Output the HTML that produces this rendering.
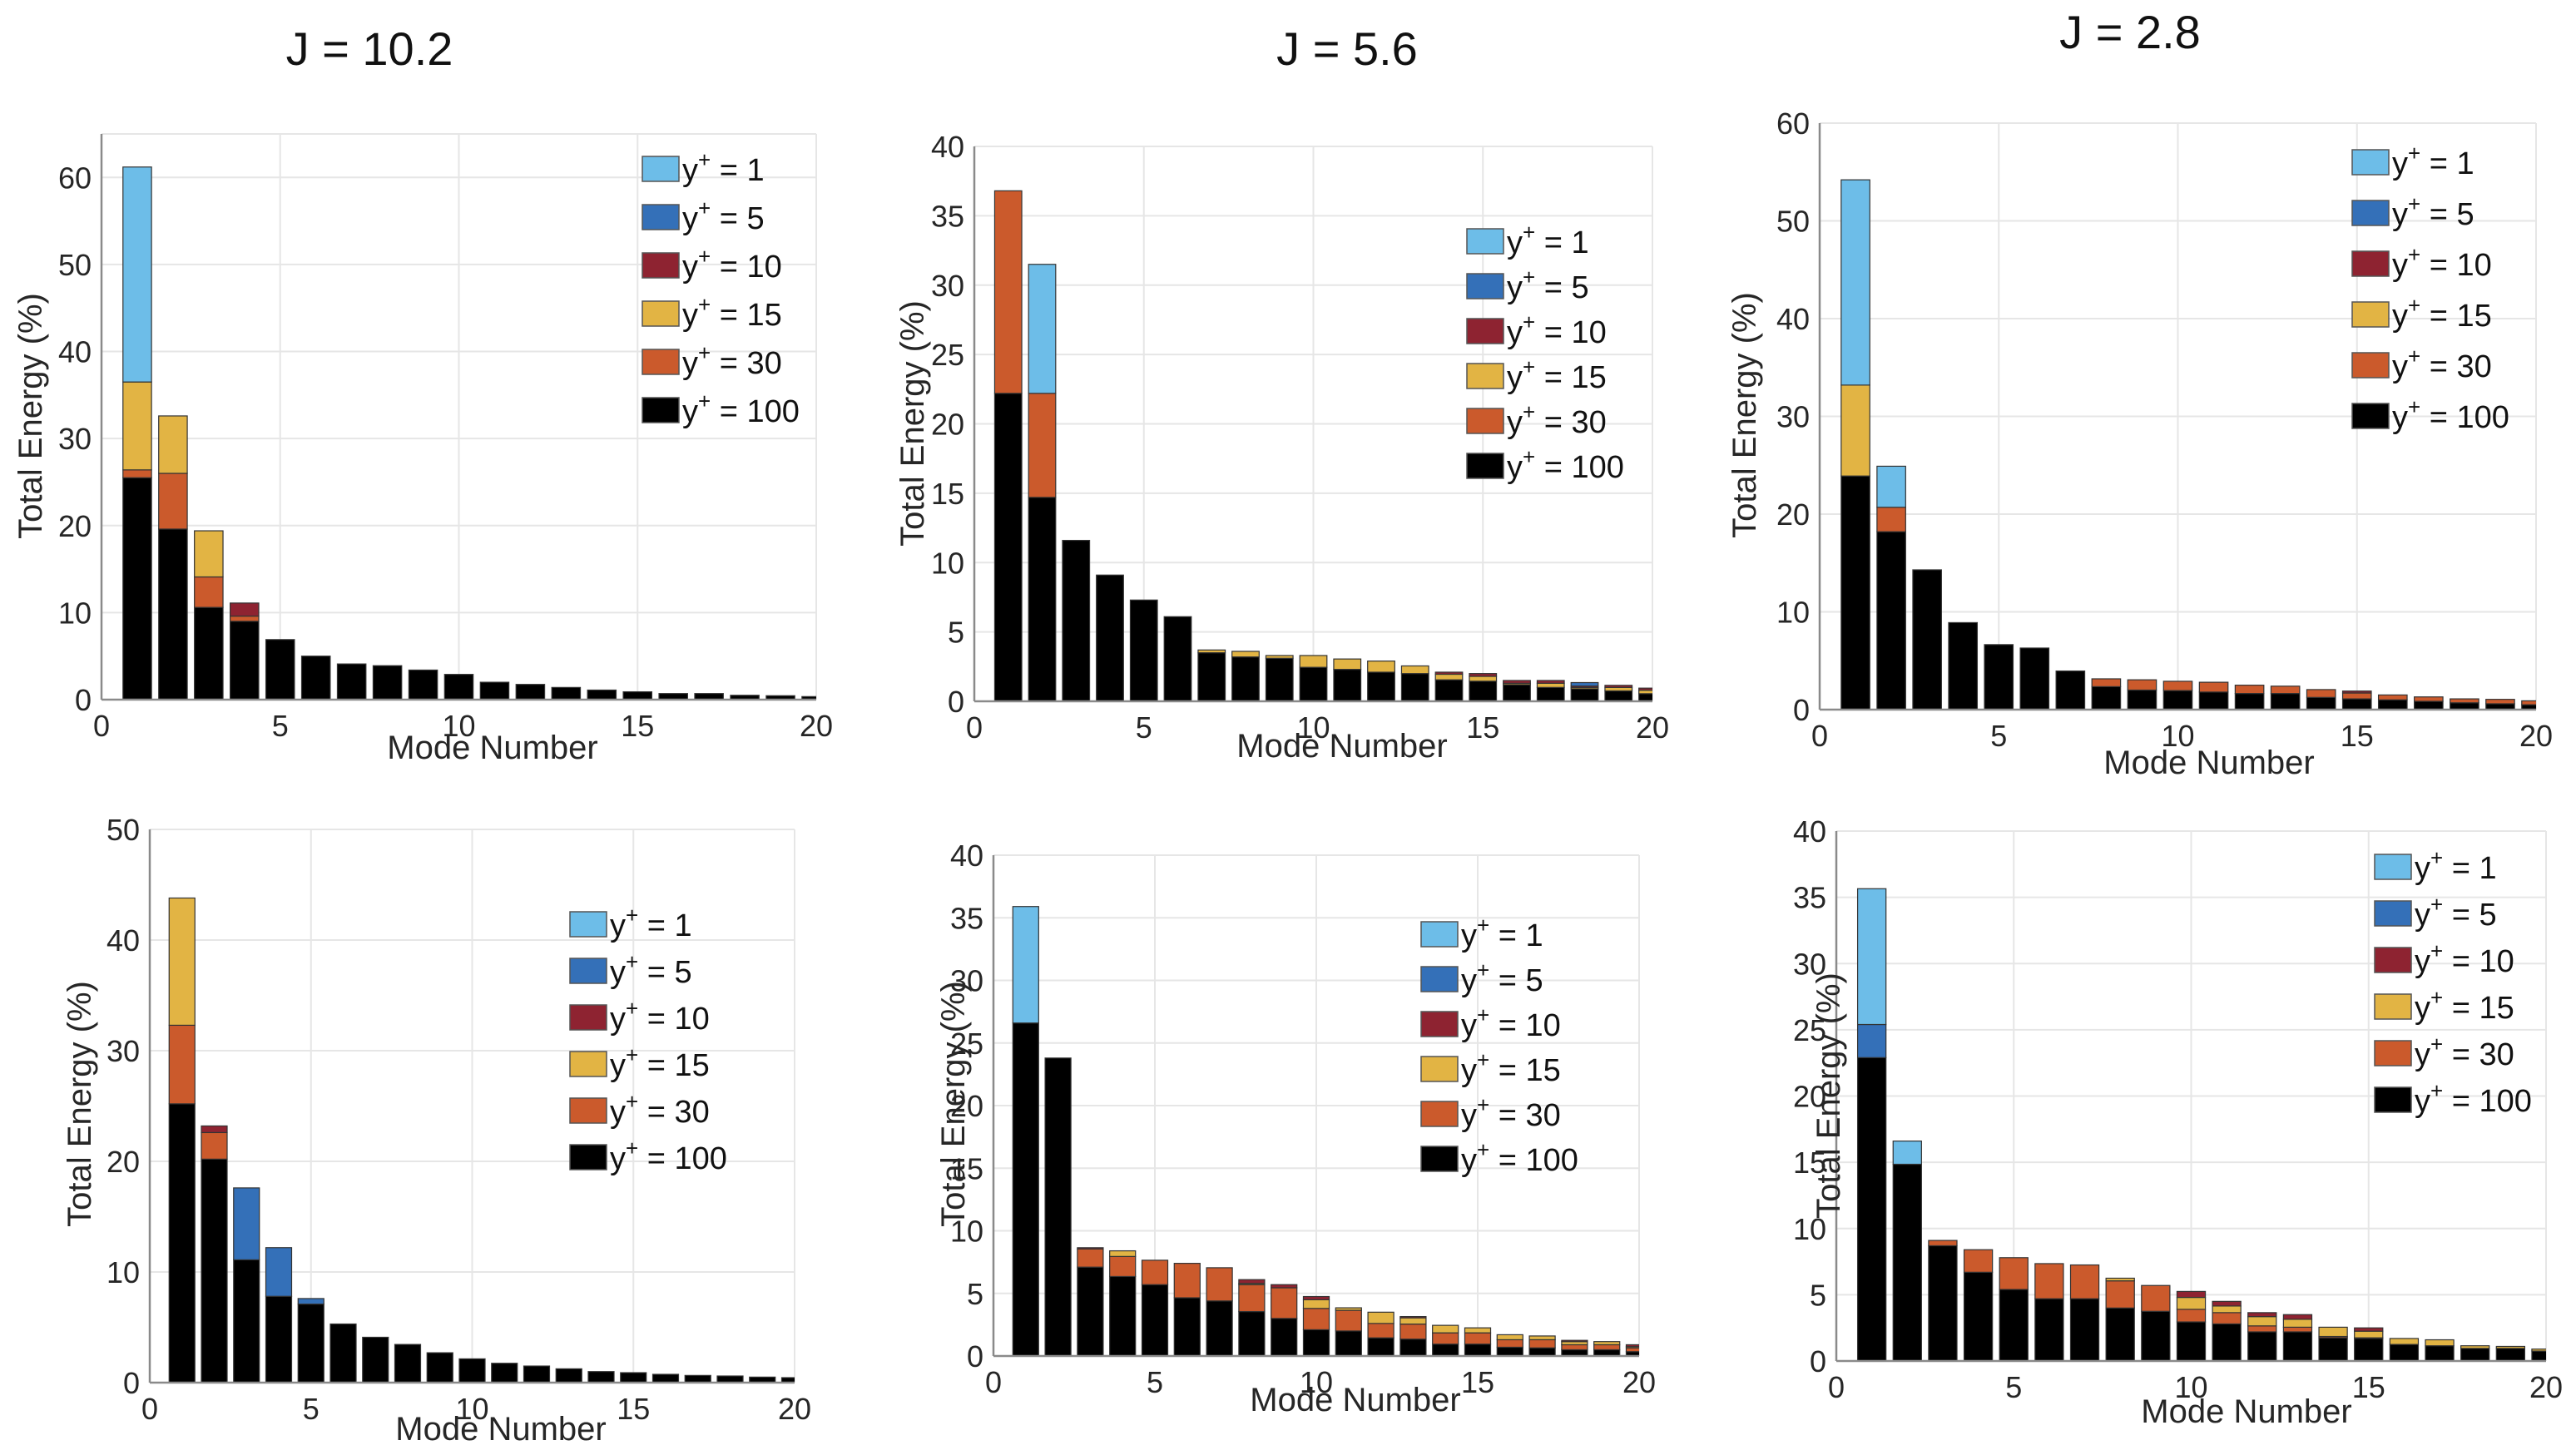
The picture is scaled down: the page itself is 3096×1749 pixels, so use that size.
<!DOCTYPE html>
<html><head><meta charset="utf-8"><style>
html,body{margin:0;padding:0;background:#fff;}
svg{display:block;font-family:"Liberation Sans",Arial,sans-serif;}
</style></head><body>
<svg id="fig" width="3096" height="1749" viewBox="0 0 3096 1749" xmlns="http://www.w3.org/2000/svg">
<rect x="0" y="0" width="3096" height="1749" fill="#fff"/>
<text x="444" y="78" font-size="56" text-anchor="middle" fill="#111">J = 10.2</text>
<text x="1619" y="78" font-size="56" text-anchor="middle" fill="#111">J = 5.6</text>
<text x="2560" y="58" font-size="56" text-anchor="middle" fill="#111">J = 2.8</text>
</svg>
<script>
const seriesLabels = ["100","30","15","10","5","1"];
const seriesColors = ["#000000","#CB5A2C","#E2B444","#8E2331","#3470B8","#6DBDE8"];
const modes = [1,2,3,4,5,6,7,8,9,10,11,12,13,14,15,16,17,18,19,20];
const xTicks = [0,5,10,15,20];

const p1_y100 = [25.5,19.6,10.6,9.0,6.9,5.0,4.1,3.9,3.4,2.9,2.0,1.75,1.4,1.1,0.9,0.7,0.7,0.5,0.45,0.35];
const p1_y30  = [0.9,6.4,3.5,0.6,0,0,0,0,0,0,0,0,0,0,0,0,0,0,0,0];
const p1_y15  = [10.1,6.6,5.3,0,0,0,0,0,0,0,0,0,0,0,0,0,0,0,0,0];
const p1_y10  = [0,0,0,1.5,0,0,0,0,0,0,0,0,0,0,0,0,0,0,0,0];
const p1_y5   = [0,0,0,0,0,0,0,0,0,0,0,0,0,0,0,0,0,0,0,0];
const p1_y1   = [24.7,0,0,0,0,0,0,0,0,0,0,0,0,0,0,0,0,0,0,0];
const p1_yTicks = [0,10,20,30,40,50,60];

const p2_y100 = [22.2,14.7,11.6,9.1,7.3,6.1,3.5,3.2,3.1,2.45,2.3,2.1,2.0,1.55,1.45,1.2,1.0,0.9,0.75,0.55];
const p2_y30  = [14.6,7.5,0,0,0,0,0,0,0,0,0,0,0,0,0,0,0,0,0,0];
const p2_y15  = [0,0,0,0,0,0,0.2,0.4,0.2,0.85,0.75,0.8,0.55,0.4,0.35,0.1,0.3,0.1,0.25,0.25];
const p2_y10  = [0,0,0,0,0,0,0,0,0,0,0,0,0,0.15,0.2,0.2,0.2,0.1,0.15,0.15];
const p2_y5   = [0,0,0,0,0,0,0,0,0,0,0,0,0,0,0,0,0,0.25,0,0];
const p2_y1   = [0,9.3,0,0,0,0,0,0,0,0,0,0,0,0,0,0,0,0,0,0];
const p2_yTicks = [0,5,10,15,20,25,30,35,40];

const p3_y100 = [23.9,18.2,14.3,8.9,6.65,6.3,3.95,2.35,2.0,1.95,1.8,1.65,1.65,1.25,1.1,1.0,0.85,0.7,0.6,0.5];
const p3_y30  = [0,2.5,0,0,0,0,0,0.8,1.05,0.95,1.0,0.85,0.75,0.8,0.6,0.5,0.45,0.4,0.45,0.4];
const p3_y15  = [9.3,0,0,0,0,0,0,0,0,0,0,0,0,0,0,0,0,0,0,0];
const p3_y10  = [0,0,0,0,0,0,0,0,0,0,0,0,0,0,0.2,0,0,0,0,0];
const p3_y5   = [0,0,0,0,0,0,0,0,0,0,0,0,0,0,0,0,0,0,0,0];
const p3_y1   = [21.0,4.2,0,0,0,0,0,0,0,0,0,0,0,0,0,0,0,0,0,0];
const p3_yTicks = [0,10,20,30,40,50,60];

const p4_y100 = [25.2,20.2,11.1,7.8,7.1,5.3,4.1,3.45,2.7,2.15,1.75,1.5,1.25,1.0,0.9,0.75,0.65,0.6,0.5,0.45];
const p4_y30  = [7.1,2.4,0,0,0,0,0,0,0,0,0,0,0,0,0,0,0,0,0,0];
const p4_y15  = [11.5,0,0,0,0,0,0,0,0,0,0,0,0,0,0,0,0,0,0,0];
const p4_y10  = [0,0.6,0,0,0,0,0,0,0,0,0,0,0,0,0,0,0,0,0,0];
const p4_y5   = [0,0,6.5,4.4,0.5,0,0,0,0,0,0,0,0,0,0,0,0,0,0,0];
const p4_y1   = [0,0,0,0,0,0,0,0,0,0,0,0,0,0,0,0,0,0,0,0];
const p4_yTicks = [0,10,20,30,40,50];

const p5_y100 = [26.6,23.8,7.1,6.35,5.7,4.65,4.4,3.55,3.0,2.1,2.0,1.45,1.35,0.95,0.95,0.7,0.65,0.5,0.5,0.35];
const p5_y30  = [0,0,1.45,1.6,1.95,2.75,2.65,2.15,2.45,1.7,1.65,1.15,1.2,0.9,0.9,0.6,0.65,0.4,0.4,0.3];
const p5_y15  = [0,0,0,0.45,0,0,0,0.1,0,0.7,0.2,0.9,0.5,0.6,0.4,0.4,0.3,0.25,0.25,0.1];
const p5_y10  = [0,0,0.1,0,0,0,0,0.3,0.25,0.25,0,0,0.1,0,0,0,0,0.1,0,0.15];
const p5_y5   = [0,0,0,0,0,0,0,0,0,0,0,0,0,0,0,0,0,0,0,0];
const p5_y1   = [9.3,0,0,0,0,0,0,0,0,0,0,0,0,0,0,0,0,0,0,0];
const p5_yTicks = [0,5,10,15,20,25,30,35,40];

const p6_y100 = [22.9,14.85,8.7,6.7,5.4,4.7,4.7,4.0,3.75,2.95,2.8,2.2,2.2,1.75,1.7,1.25,1.15,0.95,0.95,0.75];
const p6_y30  = [0,0,0.4,1.7,2.4,2.65,2.55,2.05,1.95,0.95,0.85,0.45,0.35,0.1,0.05,0,0,0,0,0];
const p6_y15  = [0,0,0,0,0,0,0,0.2,0,0.9,0.5,0.7,0.6,0.7,0.5,0.45,0.45,0.2,0.15,0.15];
const p6_y10  = [0,0,0,0,0,0,0,0,0,0.45,0.35,0.3,0.35,0,0.25,0,0,0,0,0];
const p6_y5   = [2.5,0,0,0,0,0,0,0,0,0,0,0,0,0,0,0,0,0,0,0];
const p6_y1   = [10.25,1.75,0,0,0,0,0,0,0,0,0,0,0,0,0,0,0,0,0,0];
const p6_yTicks = [0,5,10,15,20,25,30,35,40];

const NS = "http://www.w3.org/2000/svg";
const fig = document.getElementById('fig');
function mk(tag, attrs, parent){
  const e = document.createElementNS(NS, tag);
  for (const k in attrs) e.setAttribute(k, attrs[k]);
  (parent || fig).appendChild(e);
  return e;
}

const panels = [
  {id:"p1", L:122, R:981, T:161, B:841, ymax:65, yTicks:p1_yTicks, series:[p1_y100,p1_y30,p1_y15,p1_y10,p1_y5,p1_y1], legX:772, legY:203, legDy:58, ylx:36, yly:500, xlx:592, xly:912},
  {id:"p2", L:1171, R:1986, T:176, B:843, ymax:40, yTicks:p2_yTicks, series:[p2_y100,p2_y30,p2_y15,p2_y10,p2_y5,p2_y1], legX:1763, legY:290, legDy:54, ylx:1096, yly:509, xlx:1613, xly:910},
  {id:"p3", L:2187, R:3048, T:148, B:853, ymax:60, yTicks:p3_yTicks, series:[p3_y100,p3_y30,p3_y15,p3_y10,p3_y5,p3_y1], legX:2827, legY:195, legDy:61, ylx:2096, yly:499, xlx:2655, xly:930},
  {id:"p4", L:180, R:955, T:997, B:1662, ymax:50, yTicks:p4_yTicks, series:[p4_y100,p4_y30,p4_y15,p4_y10,p4_y5,p4_y1], legX:685, legY:1111, legDy:56, ylx:95, yly:1327, xlx:602, xly:1731},
  {id:"p5", L:1194, R:1970, T:1028, B:1630, ymax:40, yTicks:p5_yTicks, series:[p5_y100,p5_y30,p5_y15,p5_y10,p5_y5,p5_y1], legX:1708, legY:1123, legDy:54, ylx:1145, yly:1327, xlx:1629, xly:1696},
  {id:"p6", L:2207, R:3060, T:999, B:1636, ymax:40, yTicks:p6_yTicks, series:[p6_y100,p6_y30,p6_y15,p6_y10,p6_y5,p6_y1], legX:2854, legY:1042, legDy:56, ylx:2197, yly:1317, xlx:2700, xly:1710}
];

panels.forEach(p => {
  const g = mk('g', {});
  
  
  const xs = v => p.L + (v / 20) * (p.R - p.L);
  const ys = v => p.B - (v / p.ymax) * (p.B - p.T);
  const defs = mk('defs', {}, g);
  const cp = mk('clipPath', {id: p.id + 'clip'}, defs);
  mk('rect', {x:p.L, y:p.T, width:p.R-p.L, height:p.B-p.T}, cp);
  // grid
  const grid = mk('g', {stroke:'#e6e6e6', 'stroke-width':2}, g);
  
  
  p.yTicks.forEach(t => { if (t > 0) mk('line', {x1:p.L, x2:p.R, y1:ys(t), y2:ys(t)}, grid); });
  mk('line', {x1:p.L, x2:p.R, y1:ys(p.ymax), y2:ys(p.ymax)}, grid);
  xTicks.forEach(t => { if (t > 0) mk('line', {x1:xs(t), x2:xs(t), y1:p.T, y2:p.B}, grid); });
  // bars
  const bars = mk('g', {'clip-path':'url(#' + p.id + 'clip)'}, g);
  
  
  modes.forEach((m, i) => {
    let base = 0;
    p.series.forEach((s, si) => {
      const v = s[i];
      if (v > 0) {
        const r = mk('rect', {x:xs(m-0.4), width:xs(m+0.4)-xs(m-0.4), y:ys(base+v), height:ys(base)-ys(base+v), fill:seriesColors[si], stroke:'#333', 'stroke-width':1.2}, bars);
        
        
        base += v;
      }
    });
  });
  // axes
  const ax = mk('g', {stroke:'#8a8a8a', 'stroke-width':2.5}, g);
  
  
  mk('line', {x1:p.L, x2:p.L, y1:p.T, y2:p.B}, ax);
  mk('line', {x1:p.L, x2:p.R, y1:p.B, y2:p.B}, ax);
  // tick labels
  p.yTicks.forEach(t => {
    const tx = mk('text', {x:p.L-12, y:ys(t)+13, 'font-size':36, 'text-anchor':'end', fill:'#262626'}, g);
    
    
    tx.textContent = t;
  });
  xTicks.forEach(t => {
    const tx = mk('text', {x:xs(t), y:p.B+44, 'font-size':36, 'text-anchor':'middle', fill:'#262626'}, g);
    
    
    tx.textContent = t;
  });
  const yl = mk('text', {x:0, y:0, 'font-size':40, 'text-anchor':'middle', fill:'#262626', transform:'translate(' + (p.ylx+14) + ',' + p.yly + ') rotate(-90)'}, g);
  
  
  yl.textContent = 'Total Energy (%)';
  const xl = mk('text', {x:p.xlx, y:p.xly, 'font-size':40, 'text-anchor':'middle', fill:'#262626'}, g);
  
  
  xl.textContent = 'Mode Number';
  // legend (top-to-bottom: 1,5,10,15,30,100)
  const leg = mk('g', {}, g);
  
  
  for (let k = 0; k < 6; k++) {
    const si = 5 - k;
    const cy = p.legY + k * p.legDy;
    const sw = mk('rect', {x:p.legX, y:cy-15, width:44, height:30, fill:seriesColors[si], stroke:'#555', 'stroke-width':1.5}, leg);
    
    
    const t = mk('text', {x:p.legX+48, y:cy+14, 'font-size':38, fill:'#111'}, leg);
    
    
    const a = mk('tspan', {}, t); a.textContent = 'y';
    const b = mk('tspan', {dy:-16, 'font-size':26}, t); b.textContent = '+';
    const c = mk('tspan', {dy:16}, t); c.textContent = ' = ' + seriesLabels[si];
  }
});
</script>
</body></html>
